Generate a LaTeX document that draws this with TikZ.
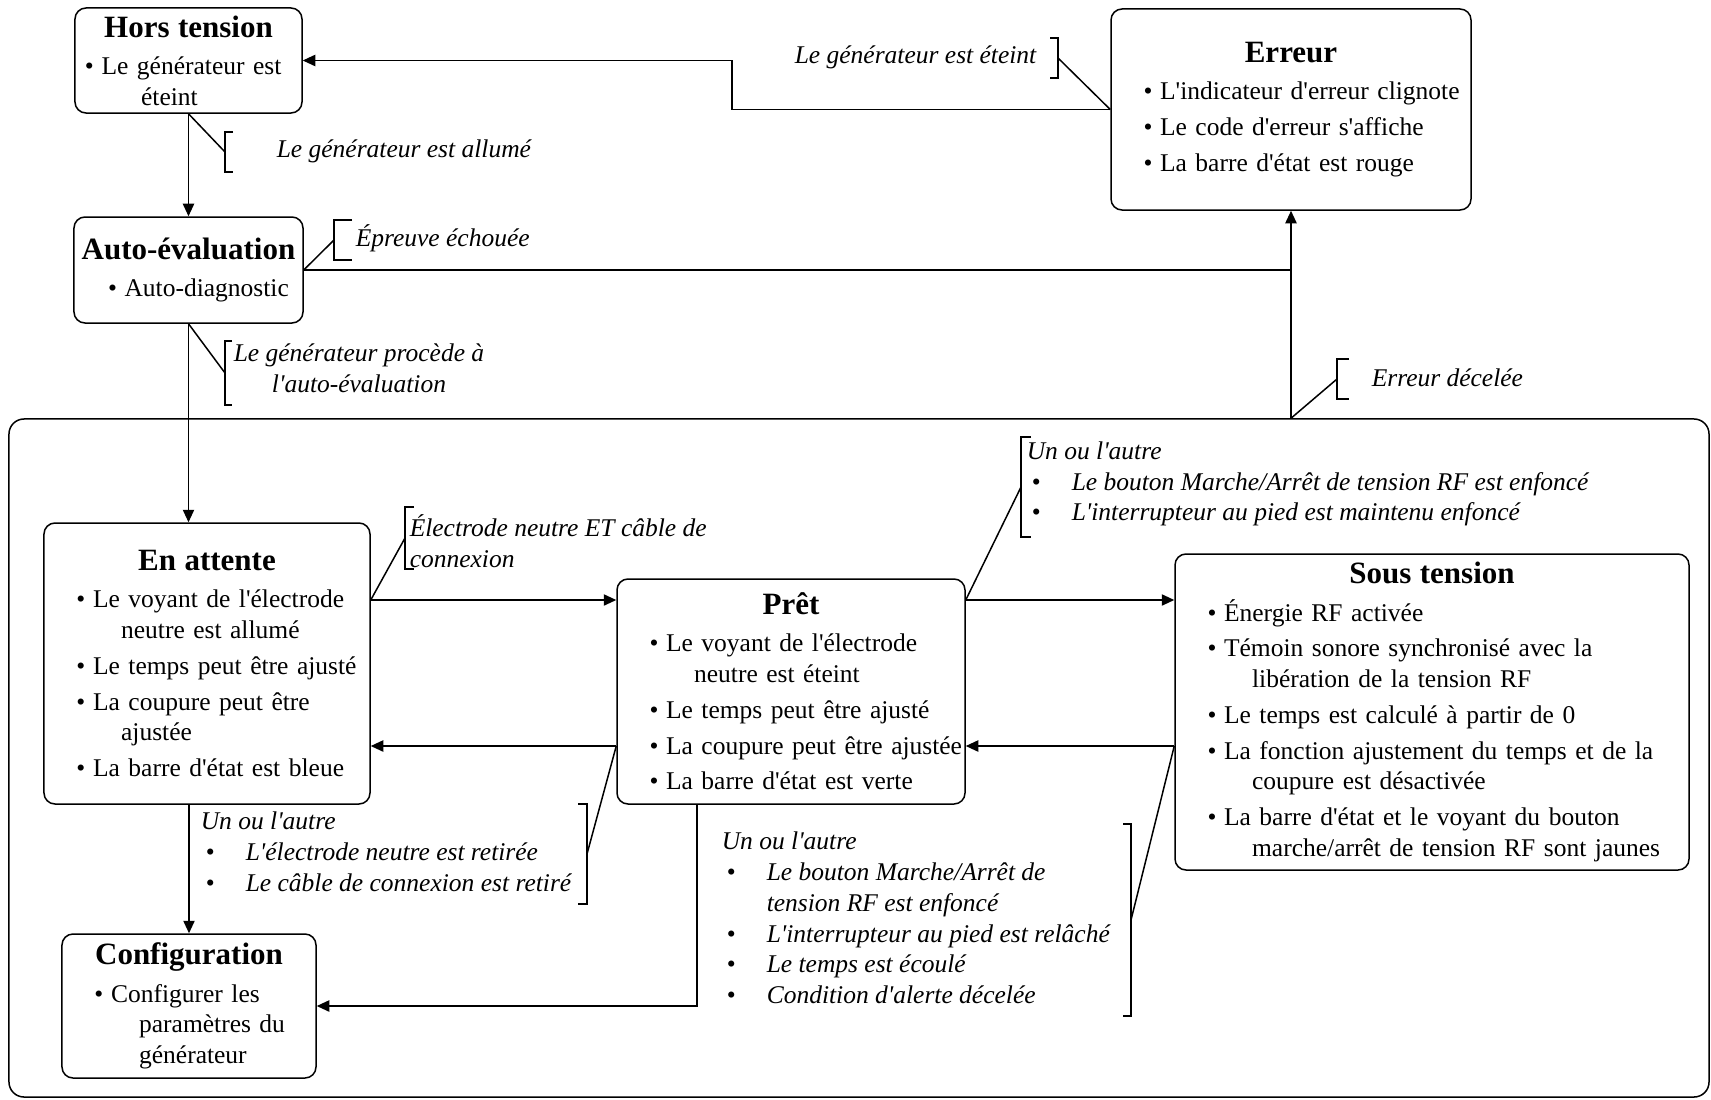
\documentclass[tikz,border=0pt]{standalone}
\usepackage{fontspec}
\setmainfont{Liberation Serif}[Ligatures=TeXOff]
\usepackage{tikz}
\usetikzlibrary{arrows.meta,positioning}

\newcommand{\titre}[1]{\makebox[\linewidth]{\fontsize{12.4}{14}\selectfont\bfseries #1}\\[2.6pt]}
\newcommand{\puce}[1]{\mbox{\textbullet\hspace{0.3em}#1}}
\newcommand{\suite}[1]{\\\hspace*{1.75em}\mbox{#1}}
\newcommand{\entre}{\\[2pt]}
\newcommand{\cpuce}{\makebox[18pt][l]{\hspace{2pt}\upshape\textbullet}}
\newcommand{\crochetG}[3]{\draw ([shift={(#3,-#2)}]#1) -- ([shift={(0,-#2)}]#1) -- ([shift={(0,#2)}]#1) -- ([shift={(#3,#2)}]#1);}
\newcommand{\crochetD}[3]{\draw ([shift={(-#3,-#2)}]#1) -- ([shift={(0,-#2)}]#1) -- ([shift={(0,#2)}]#1) -- ([shift={(-#3,#2)}]#1);}

\begin{document}
\begin{tikzpicture}[x=0.4pt,y=-0.4pt,line width=0.6pt,
    >={Triangle[length=5pt,width=4.5pt]},
    etat/.style={draw,rounded corners=4.4pt,align=left,inner ysep=0pt,inner xsep=13pt,
      font=\fontsize{10.2}{12.3}\selectfont},
    cond/.style={inner sep=0pt,align=left,font=\fontsize{10.2}{12.3}\selectfont\itshape}]
  \path[use as bounding box] (0,0) rectangle (1711,1099);

  % grand cadre
  \node[draw,rounded corners=6pt,minimum width=680pt,minimum height=271.2pt,inner sep=0pt] (zone) at (859,758) {};

  % etats
  \node[etat,inner xsep=4pt,text width=82.8pt,minimum width=90.8pt,minimum height=42pt] (hors) at (188.5,60.5)
    {\titre{Hors tension}\puce{Le générateur est}\\\hspace*{2.2em}éteint};
  \node[etat,inner xsep=13.6pt,text width=64.4pt,minimum width=91.6pt,minimum height=42.4pt] (auto) at (188.5,270)
    {\titre{Auto-évaluation}\puce{Auto-diagnostic}};
  \node[etat,text width=118pt,minimum width=144pt,minimum height=80.4pt] (erreur) at (1291,109.5)
    {\titre{Erreur}\puce{L'indicateur d'erreur clignote}\entre\puce{Le code d'erreur s'affiche}\entre\puce{La barre d'état est rouge}};
  \node[etat,text width=104.4pt,minimum width=130.4pt,minimum height=112.4pt] (attente) at (207,663.5)
    {\titre{En attente}\puce{Le voyant de l'électrode}\suite{neutre est allumé}\entre\puce{Le temps peut être ajusté}\entre
     \puce{La coupure peut être}\suite{ajustée}\entre\puce{La barre d'état est bleue}};
  \node[etat,text width=113.2pt,minimum width=139.2pt,minimum height=90pt] (pret) at (791,691.5)
    {\titre{Prêt}\puce{Le voyant de l'électrode}\suite{neutre est éteint}\entre\puce{Le temps peut être ajusté}\entre
     \puce{La coupure peut être ajustée}\entre\puce{La barre d'état est verte}};
  \node[etat,text width=179.6pt,minimum width=205.6pt,minimum height=126.4pt] (sous) at (1432,712)
    {\titre{Sous tension}\puce{Énergie RF activée}\entre\puce{Témoin sonore synchronisé avec la}\suite{libération de la tension RF}\entre
     \puce{Le temps est calculé à partir de 0}\entre\puce{La fonction ajustement du temps et de la}\suite{coupure est désactivée}\entre
     \puce{La barre d'état et le voyant du bouton}\suite{marche/arrêt de tension RF sont jaunes}};
  \node[etat,text width=75.6pt,minimum width=101.6pt,minimum height=57.6pt] (config) at (189,1006)
    {\titre{Configuration}\puce{Configurer les}\suite{paramètres du}\suite{générateur}};

  % transitions
  \coordinate (r1) at (0,600);
  \coordinate (r2) at (0,746);
  \coordinate (coude) at (732,0);
  \coordinate (bas) at (697,0);
  \draw[->] (hors) -- (auto);
  \draw[->] (auto.south) -- (auto.south |- attente.north);
  \draw[->] (attente.south -| config.north) -- (config.north);
  \draw (auto.east) -- (auto.east -| erreur.south);
  \draw[->] (zone.north -| erreur.south) -- (erreur.south);
  \draw[->] (erreur.west) -- (erreur.west -| coude) |- (hors.east);
  \draw[->] (attente.east |- r1) -- (pret.west |- r1);
  \draw[->] (pret.west |- r2) -- (attente.east |- r2);
  \draw[->] (pret.east |- r1) -- (sous.west |- r1);
  \draw[->] (sous.west |- r2) -- (pret.east |- r2);
  \draw[->] (pret.south -| bas) |- (config.east);

  % conditions
  \coordinate (b1) at (225,152);
  \coordinate (b2) at (334,240);
  \coordinate (b3) at (225,373);
  \coordinate (b4) at (1058,58);
  \coordinate (b5) at (1337,379);
  \coordinate (b6) at (405,538);
  \coordinate (b7) at (1021,487);
  \coordinate (b8) at (587,854);
  \coordinate (b9) at (1131,920);
  \draw (hors.south) -- (b1); \crochetG{b1}{20}{8}
  \draw (auto.east) -- (b2); \crochetG{b2}{20}{18}
  \draw (auto.south) -- (b3); \crochetG{b3}{32}{7}
  \draw (b4) -- (erreur.west); \crochetD{b4}{20}{8}
  \draw (zone.north -| erreur.south) -- (b5); \crochetG{b5}{20}{12}
  \draw (attente.east |- r1) -- (b6); \crochetG{b6}{31}{9}
  \draw (pret.east |- r1) -- (b7); \crochetG{b7}{50}{10}
  \draw (pret.west |- r2) -- (b8); \crochetD{b8}{50}{9}
  \draw (sous.west |- r2) -- (b9); \crochetD{b9}{96}{8}

  \node[cond,anchor=west] (c1) at (276,151) {Le générateur est allumé};
  \node[cond,anchor=west] (c2) at (355,238) {Épreuve échouée};
  \node[cond,anchor=west,align=center] (c3) at (233,368) {Le générateur procède à\\l'auto-évaluation};
  \node[cond,anchor=east] (c4) at (1037,57) {Le générateur est éteint};
  \node[cond,anchor=west] (c5) at (1371,378) {Erreur décelée};
  \node[cond,anchor=west] (c6) at (409,541) {Électrode neutre ET câble de\\connexion};
  \node[cond,anchor=west] (c7) at (1026,484) {Un ou l'autre\\\cpuce Le bouton Marche/Arrêt de tension RF est enfoncé\\\cpuce L'interrupteur au pied est maintenu enfoncé};
  \node[cond,anchor=west] (c8) at (200,852) {Un ou l'autre\\\cpuce L'électrode neutre est retirée\\\cpuce Le câble de connexion est retiré};
  \node[cond,anchor=west] (c9) at (721,918) {Un ou l'autre\\\cpuce Le bouton Marche/Arrêt de\\\hspace*{18pt}tension RF est enfoncé\\
    \cpuce L'interrupteur au pied est relâché\\\cpuce Le temps est écoulé\\\cpuce Condition d'alerte décelée};
\end{tikzpicture}
\end{document}
